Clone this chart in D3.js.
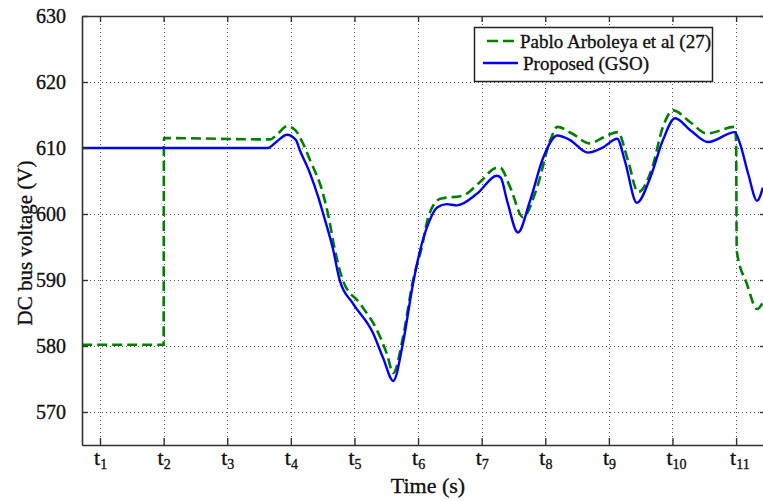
<!DOCTYPE html>
<html>
<head>
<meta charset="utf-8">
<script src="https://cdn.jsdelivr.net/npm/d3@7"></script>
<style>
  body { margin: 0; background: #fff; }
  svg { display: block; font-family: "Liberation Serif", "Times New Roman", serif; }
  text { stroke: #111; stroke-width: 0.35px; }
</style>
</head>
<body>
<svg id="chart" width="763" height="501"></svg>
<script>
// x ticks t1..t11 and y ticks
const tickT = [1, 2, 3, 4, 5, 6, 7, 8, 9, 10, 11];
const yTicks = [570, 580, 590, 600, 610, 620, 630];

// Proposed (GSO) - [t, volts]
const proposed = [
  [0.72, 610], [3.64, 610], [3.78, 611], [3.94, 612], [4.08, 611.2], [4.14, 609.7],
  [4.30, 606.2], [4.43, 602.6], [4.54, 599], [4.66, 594.8], [4.77, 589.9], [4.98, 586.4],
  [5.29, 582], [5.45, 578.2], [5.61, 574.7], [5.76, 580.3], [5.92, 589.4], [6.03, 594.4],
  [6.16, 598.5], [6.30, 601], [6.45, 601.5], [6.61, 601.3], [6.93, 603.1], [7.24, 605.8],
  [7.30, 605.5], [7.40, 602], [7.57, 597.2], [7.76, 602], [7.97, 608.6], [8.19, 611.9],
  [8.39, 611.2], [8.67, 609.3], [8.91, 610.1], [9.13, 611.4], [9.25, 608.1], [9.44, 601.7],
  [9.65, 605.5], [9.85, 611.2], [10.04, 614.5], [10.28, 612.7], [10.56, 610.9], [10.98, 612.4],
  [11.06, 610.7], [11.19, 606.1], [11.33, 602], [11.42, 604]
];

// Pablo Arboleya et al (27) - [t, volts]
const arboleya = [
  [0.72, 580.2], [2.0, 580.2], [2.005, 611.5], [3.67, 611.3], [3.80, 612.2], [3.94, 613.3],
  [4.07, 612.7], [4.19, 610.7], [4.30, 608.2], [4.49, 603.6], [4.58, 600.2], [4.69, 594.7],
  [4.82, 589.9], [5.09, 586.4], [5.36, 582.3], [5.51, 578.8], [5.61, 575.9], [5.76, 581.2],
  [5.92, 589.9], [6.06, 595], [6.16, 599.5], [6.35, 602.3], [6.71, 602.8], [6.97, 604.8],
  [7.24, 607], [7.29, 607], [7.45, 604], [7.65, 599.5], [7.87, 604], [8.08, 611.2],
  [8.19, 613.2], [8.42, 612.2], [8.70, 610.7], [8.91, 611.6], [9.14, 612.4], [9.30, 608.1],
  [9.46, 603.3], [9.68, 607], [9.85, 613.2], [10.01, 615.7], [10.28, 613.9], [10.54, 612.2],
  [10.98, 613.2], [11.0, 611], [11.01, 594.4], [11.17, 589.4], [11.33, 585.6], [11.42, 586.6]
];

const svg = d3.select("#chart");

// plot box (right edge sits just outside the picture)
const plotL = 82, plotR = 766, plotT = 16, plotB = 445;

const x = d3.scaleLinear().domain([0.717, 11.47]).range([plotL, plotR]);
const y = d3.scaleLinear().domain([565, 630]).range([plotB, plotT]);

svg.append("defs").append("clipPath").attr("id", "plot-clip")
  .append("rect")
  .attr("x", plotL).attr("y", plotT)
  .attr("width", plotR - plotL).attr("height", plotB - plotT);

// dotted grid
const grid = svg.append("g").attr("stroke", "#555").attr("stroke-width", 1)
  .attr("stroke-dasharray", "1,3");
grid.selectAll("line.v").data(tickT).join("line").attr("class", "v")
  .attr("x1", d => Math.round(x(d)) + 0.5).attr("x2", d => Math.round(x(d)) + 0.5)
  .attr("y1", plotT).attr("y2", plotB);
grid.selectAll("line.h").data(yTicks.filter(d => d < 630)).join("line").attr("class", "h")
  .attr("x1", plotL).attr("x2", plotR)
  .attr("y1", d => Math.round(y(d)) + 0.5).attr("y2", d => Math.round(y(d)) + 0.5);

// lines
const line = d3.line()
  .x(d => x(d[0]))
  .y(d => y(d[1]))
  .curve(d3.curveMonotoneX);

const plot = svg.append("g").attr("clip-path", "url(#plot-clip)");

plot.append("path")
  .datum(arboleya)
  .attr("fill", "none")
  .attr("stroke", "#008000")
  .attr("stroke-width", 2.6)
  .attr("stroke-dasharray", "10,5")
  .attr("d", line);

plot.append("path")
  .datum(proposed)
  .attr("fill", "none")
  .attr("stroke", "#0000ff")
  .attr("stroke-width", 2.4)
  .attr("d", line);

// axes (box with inward ticks, matlab style)
const axisColor = "#333";
svg.append("g")
  .attr("transform", `translate(0,${plotB})`)
  .call(d3.axisBottom(x).tickValues(tickT).tickSizeInner(-7).tickSizeOuter(0).tickFormat(""))
  .call(g => g.select(".domain").attr("stroke", axisColor).attr("stroke-width", 1.6))
  .call(g => g.selectAll(".tick line").attr("stroke", axisColor).attr("stroke-width", 1.4));

svg.append("g")
  .attr("transform", `translate(0,${plotT})`)
  .call(d3.axisTop(x).tickValues(tickT).tickSizeInner(-6).tickSizeOuter(0).tickFormat(""))
  .call(g => g.select(".domain").attr("stroke", axisColor).attr("stroke-width", 1.6))
  .call(g => g.selectAll(".tick line").attr("stroke", axisColor).attr("stroke-width", 1.4));

svg.append("g")
  .attr("transform", `translate(${plotL},0)`)
  .call(d3.axisLeft(y).tickValues(yTicks).tickSizeInner(-6).tickSizeOuter(0).tickPadding(16))
  .call(g => g.select(".domain").attr("stroke", axisColor).attr("stroke-width", 1.6))
  .call(g => g.selectAll(".tick line").attr("stroke", axisColor).attr("stroke-width", 1.4))
  .call(g => g.selectAll(".tick text")
    .attr("font-family", "Liberation Serif")
    .attr("font-size", 20)
    .attr("fill", "#111"));

svg.append("g")
  .attr("transform", `translate(${plotR},0)`)
  .call(d3.axisRight(y).tickValues(yTicks).tickSizeInner(-6).tickSizeOuter(0).tickFormat(""))
  .call(g => g.select(".domain").attr("stroke", axisColor).attr("stroke-width", 1.6))
  .call(g => g.selectAll(".tick line").attr("stroke", axisColor).attr("stroke-width", 1.4));

// x tick labels t with subscript
const xl = svg.append("g").attr("fill", "#111");
xl.selectAll("text").data(tickT).join("text")
  .attr("x", d => x(d) - 6)
  .attr("y", 465)
  .attr("font-size", 22)
  .text("t")
  .append("tspan")
  .attr("font-size", 14)
  .attr("dy", 4)
  .text(d => d);

// axis titles
svg.append("text")
  .attr("x", 428).attr("y", 493)
  .attr("text-anchor", "middle")
  .attr("font-size", 22)
  .attr("fill", "#111")
  .text("Time (s)");

svg.append("text")
  .attr("transform", "translate(32,243) rotate(-90)")
  .attr("text-anchor", "middle")
  .attr("font-size", 21)
  .attr("fill", "#111")
  .text("DC bus voltage (V)");

// legend
const legend = svg.append("g");
legend.append("rect")
  .attr("x", 474.5).attr("y", 27.5)
  .attr("width", 238).attr("height", 54)
  .attr("fill", "#fff")
  .attr("stroke", "#222")
  .attr("stroke-width", 1.5);

legend.append("line")
  .attr("x1", 487).attr("x2", 518).attr("y1", 41).attr("y2", 41)
  .attr("stroke", "#008000").attr("stroke-width", 2.6).attr("stroke-dasharray", "11,5");
legend.append("text")
  .attr("x", 520).attr("y", 48)
  .attr("font-size", 19).attr("fill", "#111")
  .text("Pablo Arboleya et al (27)");

legend.append("line")
  .attr("x1", 483).attr("x2", 518).attr("y1", 63).attr("y2", 63)
  .attr("stroke", "#0000ff").attr("stroke-width", 2.4);
legend.append("text")
  .attr("x", 523).attr("y", 70)
  .attr("font-size", 19).attr("fill", "#111")
  .text("Proposed (GSO)");
</script>
</body>
</html>
